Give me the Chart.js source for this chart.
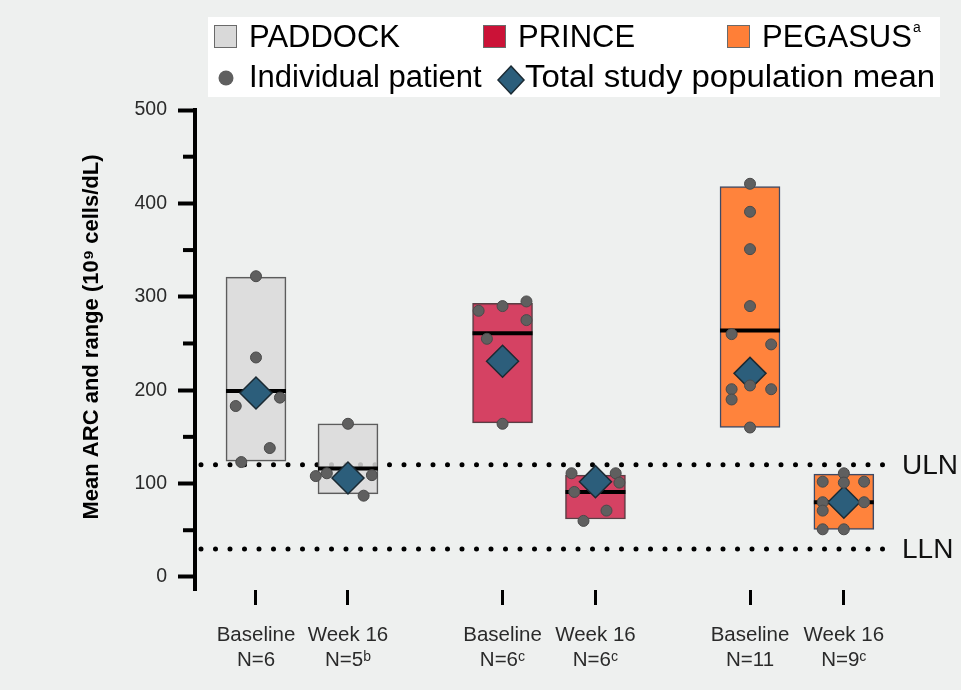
<!DOCTYPE html>
<html>
<head>
<meta charset="utf-8">
<script src="https://cdn.jsdelivr.net/npm/chart.js@4.4.1/dist/chart.umd.min.js"></script>
<style>
  body { margin: 0; background: #eef0ef; }
  #wrap { width: 961px; height: 690px; position: relative; }
</style>
</head>
<body>
<div id="wrap"><canvas id="grafico"></canvas></div>
<script>
// categorias e valores
const studies = ['PADDOCK', 'PRINCE', 'PEGASUS'];
const xLabels = [
    ['Baseline', 'N=6'], ['Week 16', 'N=5ᵇ'],
    ['Baseline', 'N=6ᶜ'], ['Week 16', 'N=6ᶜ'],
    ['Baseline', 'N=11'], ['Week 16', 'N=9ᶜ']
];
const xPositions = [1, 2, 3.68, 4.69, 6.37, 7.39];
const rangeLow = [124, 89, 165, 62, 160, 51];
const rangeHigh = [321, 164, 293, 109, 418, 110];
const medianValues = [199, 116, 261, 91, 264, 80];
const meanValues = [197, 106, 231, 102, 218, 80];
const patientValues = [
    [322, 235, 183, 192, 138, 123],
    [164, 108, 111, 109, 87],
    [285, 290, 295, 275, 255, 164],
    [111, 111, 101, 91, 71, 60],
    [421, 391, 351, 290, 260, 249, 205, 201, 201, 190, 160],
    [111, 102, 101, 102, 80, 80, 71, 51, 51]
];
const patientJitter = [
    [0, 0, -0.22, 0.26, 0.15, -0.16],
    [0, -0.35, -0.23, 0.26, 0.17],
    [-0.26, 0, 0.26, 0.26, -0.17, 0],
    [-0.26, 0.22, 0.26, -0.23, 0.12, -0.13],
    [0, 0, 0, 0, -0.2, 0.23, 0, -0.2, 0.23, -0.2, 0],
    [0, -0.23, 0, 0.22, -0.23, 0.22, -0.23, -0.23, 0]
];
const yTicks = [0, 50, 100, 150, 200, 250, 300, 350, 400, 450, 500];
const uln = 120;
const lln = 30;

const boxFill = ['rgba(217, 217, 217, 0.85)', 'rgba(211, 56, 91, 0.95)', 'rgba(255, 127, 54, 0.97)'];
const boxBorder = ['#5c5c5c', '#5a4046', '#3d4a66'];
const legendFill = ['#d9d9d9', '#cb1237', '#ff7f37'];
const FONT = '"Liberation Sans", Arial, sans-serif';

// caixas (faixa min-max), uma série por estudo
const boxDatasets = studies.map((s, i) => ({
    type: 'bar',
    label: s,
    data: [2 * i, 2 * i + 1].map(k => ({ x: xPositions[k], y: [rangeLow[k], rangeHigh[k]] })),
    backgroundColor: boxFill[i],
    borderColor: boxBorder[i],
    borderWidth: 1.5,
    borderSkipped: false,
    barThickness: 60,
    grouped: false,
    order: 4
}));

const pontos = [];
patientValues.forEach((vals, k) => {
    vals.forEach((v, j) => pontos.push({ x: xPositions[k] + patientJitter[k][j], y: v }));
});

const plugins = [{
    id: 'fundo',
    beforeDraw(chart) {
        const ctx = chart.ctx;
        ctx.save();
        ctx.fillStyle = '#eef0ef';
        ctx.fillRect(0, 0, chart.width, chart.height);
        ctx.restore();
    },
    beforeDatasetsDraw(chart) {
        // linhas ULN / LLN pontilhadas
        const ctx = chart.ctx;
        const area = chart.chartArea;
        const y = chart.scales.y;
        ctx.save();
        ctx.strokeStyle = '#000';
        ctx.lineWidth = 5;
        ctx.lineCap = 'round';
        ctx.setLineDash([0, 14.5]);
        [uln, lln].forEach(v => {
            const py = y.getPixelForValue(v);
            ctx.beginPath();
            ctx.moveTo(area.left + 6, py);
            ctx.lineTo(area.right, py);
            ctx.stroke();
        });
        ctx.restore();
    },
    afterDraw(chart) {
        const ctx = chart.ctx;
        const area = chart.chartArea;
        const y = chart.scales.y;
        ctx.save();

        // ticks menores do eixo y
        ctx.strokeStyle = '#000';
        ctx.lineWidth = 4;
        yTicks.filter(v => v % 100 !== 0).forEach(v => {
            const py = y.getPixelForValue(v);
            ctx.beginPath();
            ctx.moveTo(area.left - 12, py);
            ctx.lineTo(area.left, py);
            ctx.stroke();
        });

        // ULN / LLN
        ctx.fillStyle = '#111';
        ctx.font = '28px ' + FONT;
        ctx.textAlign = 'left';
        ctx.textBaseline = 'middle';
        ctx.fillText('ULN', area.right + 7, y.getPixelForValue(uln) + 1);
        ctx.fillText('LLN', area.right + 7, y.getPixelForValue(lln) + 1);

        // título do eixo y
        ctx.save();
        ctx.translate(92, 337);
        ctx.rotate(-Math.PI / 2);
        ctx.font = 'bold 22px ' + FONT;
        ctx.textAlign = 'center';
        ctx.fillStyle = '#000';
        ctx.fillText('Mean ARC and range (10⁹ cells/dL)', 0, 0);
        ctx.restore();

        // legenda
        ctx.fillStyle = '#ffffff';
        ctx.fillRect(208, 17, 732, 80);
        const legX = [214, 483, 727];
        ctx.font = '31px ' + FONT;
        ctx.textAlign = 'left';
        ctx.textBaseline = 'middle';
        studies.forEach((s, i) => {
            ctx.fillStyle = legendFill[i];
            ctx.fillRect(legX[i], 25, 22, 22);
            ctx.strokeStyle = '#6a6a6a';
            ctx.lineWidth = 1;
            ctx.strokeRect(legX[i] + 0.5, 25.5, 22, 22);
            ctx.fillStyle = '#000';
            ctx.fillText(s, legX[i] + 35, 38);
        });
        const wPeg = ctx.measureText(studies[2]).width;
        ctx.font = '14px ' + FONT;
        ctx.fillText('a', legX[2] + 36 + wPeg, 28);

        ctx.font = '31px ' + FONT;
        ctx.fillStyle = '#5f5f5f';
        ctx.beginPath();
        ctx.arc(226, 78, 7.5, 0, Math.PI * 2);
        ctx.fill();
        ctx.fillStyle = '#000';
        ctx.fillText('Individual patient', 249, 78);

        ctx.fillStyle = '#2c5e7b';
        ctx.strokeStyle = '#1b2a33';
        ctx.lineWidth = 1.5;
        ctx.beginPath();
        ctx.moveTo(511, 66);
        ctx.lineTo(524, 80);
        ctx.lineTo(511, 94);
        ctx.lineTo(498, 80);
        ctx.closePath();
        ctx.fill();
        ctx.stroke();
        ctx.fillStyle = '#000';
        const txtMean = 'Total study population mean';
        const wMean = ctx.measureText(txtMean).width;
        ctx.save();
        ctx.translate(525, 78);
        ctx.scale(410 / wMean, 1);
        ctx.fillText(txtMean, 0, 0);
        ctx.restore();

        ctx.restore();
    }
}];

const ctxGrafico = document.getElementById('grafico').getContext('2d');
new Chart(ctxGrafico, {
    type: 'bar',
    data: {
        datasets: [
            ...boxDatasets,
            {
                type: 'scatter',
                label: 'Median',
                data: medianValues.map((v, k) => ({ x: xPositions[k], y: v })),
                pointStyle: 'line',
                pointRadius: 30,
                pointHoverRadius: 30,
                borderColor: '#000',
                pointBorderWidth: 4,
                order: 3
            },
            {
                type: 'scatter',
                label: 'Total study population mean',
                data: meanValues.map((v, k) => ({ x: xPositions[k], y: v })),
                pointStyle: 'rectRot',
                pointRadius: 16,
                backgroundColor: '#2c5e7b',
                borderColor: '#1b2a33',
                pointBorderWidth: 1.5,
                order: 2
            },
            {
                type: 'scatter',
                label: 'Individual patient',
                data: pontos,
                pointRadius: 5.5,
                backgroundColor: '#5f5f5f',
                borderColor: '#4a4a4a',
                pointBorderWidth: 1,
                order: 1
            }
        ]
    },
    options: {
        responsive: true,
        maintainAspectRatio: false,
        animation: false,
        layout: {
            padding: { top: 110, right: 66, left: 0, bottom: 0 }
        },
        scales: {
            x: {
                type: 'linear',
                min: 0.337,
                max: 7.946,
                offset: false,
                afterBuildTicks: scale => {
                    scale.ticks = xPositions.map(v => ({ value: v }));
                },
                afterFit: scale => { scale.height = 100; },
                ticks: {
                    autoSkip: false,
                    maxRotation: 0,
                    minRotation: 0,
                    padding: 18,
                    color: '#2a2a2a',
                    font: { family: FONT, size: 20.5, lineHeight: 1.2 },
                    callback: (value, index) => xLabels[index]
                },
                grid: {
                    drawOnChartArea: false,
                    offset: false,
                    tickLength: 15,
                    tickWidth: 3,
                    tickColor: '#000'
                },
                border: { display: false }
            },
            y: {
                min: -14,
                max: 500,
                afterBuildTicks: scale => {
                    scale.ticks = yTicks.map(v => ({ value: v }));
                },
                afterFit: scale => { scale.width = 195; },
                ticks: {
                    autoSkip: false,
                    padding: 11,
                    color: '#2a2a2a',
                    font: { family: FONT, size: 19.5 },
                    callback: value => (value % 100 === 0 ? value : '')
                },
                grid: {
                    drawOnChartArea: false,
                    tickLength: 17,
                    tickWidth: 4,
                    tickColor: ctx => (ctx.tick && ctx.tick.value % 100 === 0 ? '#000' : 'rgba(0,0,0,0)')
                },
                border: { display: true, color: '#000', width: 4 }
            }
        },
        plugins: {
            legend: { display: false },
            tooltip: { enabled: false }
        }
    },
    plugins: plugins
});
</script>
</body>
</html>
